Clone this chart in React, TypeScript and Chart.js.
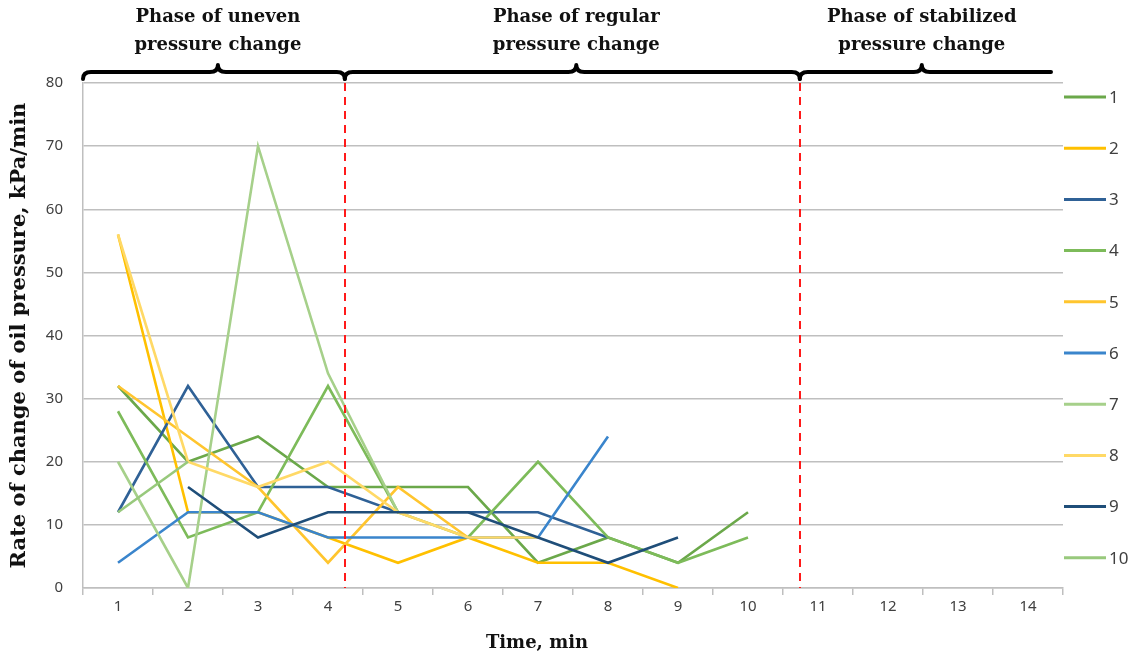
import React, { useEffect, useRef } from "react";
import { Chart, registerables } from "chart.js";

Chart.register(...registerables);

const categories = ["1", "2", "3", "4", "5", "6", "7", "8", "9", "10", "11", "12", "13", "14"];

const series1 = [32, 20, 24, 16, 16, 16, 4, 8, 4, 12];
const series2 = [56, 12, 12, 8, 4, 8, 4, 4, 0];
const series3 = [12, 32, 16, 16, 12, 12, 12, 8];
const series4 = [28, 8, 12, 32, 12, 8, 20, 8, 4, 8];
const series5 = [32, 24, 16, 4, 16, 8];
const series6 = [4, 12, 12, 8, 8, 8, 8, 24];
const series7 = [20, 0, 70, 34, 12];
const series8 = [56, 20, 16, 20, 12, 8, 8];
const series9 = [null, 16, 8, 12, 12, 12, 8, 4, 8];
const series10 = [12, 20];

const seriesNames = ["1", "2", "3", "4", "5", "6", "7", "8", "9", "10"];
const seriesValues = [series1, series2, series3, series4, series5, series6, series7, series8, series9, series10];
const seriesColors = [
  "#6BA84A", "#FFC000", "#2F6196", "#7DBB5A", "#FFC52E",
  "#3A85CC", "#A6D08A", "#FFD966", "#1F4E79", "#98C97C",
];

const yTicks = { min: 0, max: 80, step: 10 };
const phaseBoundaries = [4.24, 10.74];
const phaseLabels = [
  ["Phase of uneven", "pressure change"],
  ["Phase of regular", "pressure change"],
  ["Phase of stabilized", "pressure change"],
];
const yTitle = "Rate of change of oil pressure, kPa/min";
const xTitle = "Time, min";

const SERIF = "'DejaVu Serif', serif";
const SANS = "'Noto Sans', 'Open Sans', sans-serif";

function drawBrace(ctx: CanvasRenderingContext2D, x1: number, x2: number, mid: number, y: number, curlRight: boolean) {
  const h = 7;
  ctx.beginPath();
  ctx.moveTo(x1, y + h);
  ctx.quadraticCurveTo(x1, y, x1 + 8, y);
  ctx.lineTo(mid - 8, y);
  ctx.quadraticCurveTo(mid, y, mid, y - h);
  ctx.quadraticCurveTo(mid, y, mid + 8, y);
  if (curlRight) {
    ctx.lineTo(x2 - 8, y);
    ctx.quadraticCurveTo(x2, y, x2, y + h);
  } else {
    ctx.lineTo(x2, y);
  }
  ctx.stroke();
}

const decorPlugin = {
  id: "decor",
  afterDatasetsDraw(chart: any) {
    const { ctx, chartArea, scales } = chart;
    const xs = scales.x;
    ctx.save();
    ctx.strokeStyle = "#FF1A1A";
    ctx.lineWidth = 2;
    ctx.setLineDash([8, 6]);
    phaseBoundaries.forEach((b) => {
      const px = Math.round(xs.getPixelForValue(b - 1));
      ctx.beginPath();
      ctx.moveTo(px, chartArea.top);
      ctx.lineTo(px, chartArea.bottom);
      ctx.stroke();
    });
    ctx.restore();
  },
  afterDraw(chart: any) {
    const { ctx, chartArea, scales } = chart;
    const xs = scales.x;
    const b1 = xs.getPixelForValue(phaseBoundaries[0] - 1);
    const b2 = xs.getPixelForValue(phaseBoundaries[1] - 1);
    const right = chartArea.right - 12;
    const spans = [
      [chartArea.left, b1, true],
      [b1, b2, true],
      [b2, right, false],
    ] as [number, number, boolean][];
    const mids = [(chartArea.left + b1) / 2 + 4, (b1 + b2) / 2 + 4, b2 + 122];

    ctx.save();
    // braces
    ctx.strokeStyle = "#000";
    ctx.lineWidth = 4;
    ctx.lineCap = "round";
    ctx.lineJoin = "round";
    spans.forEach(([a, b, c], i) => drawBrace(ctx, a, b, mids[i], 72, c));

    // phase labels
    ctx.fillStyle = "#111";
    ctx.font = `bold 18px ${SERIF}`;
    ctx.textAlign = "center";
    ctx.textBaseline = "middle";
    phaseLabels.forEach((lines, i) => {
      lines.forEach((t, j) => ctx.fillText(t, mids[i], 17 + j * 28));
    });

    // axis titles
    ctx.font = `bold 18px ${SERIF}`;
    ctx.fillText(xTitle, 537, 643);
    ctx.save();
    ctx.translate(20, (chartArea.top + chartArea.bottom) / 2);
    ctx.rotate(-Math.PI / 2);
    ctx.font = `bold 21px ${SERIF}`;
    ctx.fillText(yTitle, 0, 0);
    ctx.restore();

    // legend
    ctx.font = `17px ${SANS}`;
    ctx.textAlign = "left";
    ctx.fillStyle = "#404040";
    ctx.lineWidth = 3;
    ctx.lineCap = "butt";
    const legX = chartArea.right + 1;
    seriesNames.forEach((name, i) => {
      const y = 97 + i * 51.2;
      ctx.strokeStyle = seriesColors[i];
      ctx.beginPath();
      ctx.moveTo(legX, y);
      ctx.lineTo(legX + 42, y);
      ctx.stroke();
      ctx.fillText(name, legX + 45, y + 1);
    });
    ctx.restore();
  },
};

export default function App() {
  const ref = useRef<HTMLCanvasElement | null>(null);
  useEffect(() => {
    document.body.style.margin = "0";
    const canvas = ref.current;
    if (!canvas) return;
    const chart = new Chart(canvas, {
      type: "line",
      data: {
        labels: categories,
        datasets: seriesValues.map((vals, i) => ({
          label: seriesNames[i],
          data: vals,
          borderColor: seriesColors[i],
          backgroundColor: seriesColors[i],
          borderWidth: 2.6,
          pointRadius: 0,
          tension: 0,
          fill: false,
          spanGaps: false,
          order: seriesValues.length - i,
        })),
      },
      options: {
        animation: false,
        responsive: false,
        maintainAspectRatio: false,
        layout: { padding: { top: 83, right: 74, left: 0, bottom: 0 } },
        plugins: { legend: { display: false }, tooltip: { enabled: false }, title: { display: false } },
        scales: {
          x: {
            type: "category",
            offset: true,
            grid: {
              offset: true,
              drawOnChartArea: false,
              drawTicks: true,
              tickLength: 7,
              color: "#BFBFBF",
              lineWidth: 1.5,
            },
            border: { display: true, color: "#BFBFBF", width: 1.5 },
            ticks: {
              color: "#404040",
              font: { family: SANS, size: 15 },
              padding: 3,
              maxRotation: 0,
              autoSkip: false,
            },
            afterFit: (s: any) => {
              s.height = 68;
            },
          },
          y: {
            min: yTicks.min,
            max: yTicks.max,
            grid: { color: "#BFBFBF", lineWidth: 1.5, drawTicks: false },
            border: { display: true, color: "#BFBFBF", width: 1.5 },
            ticks: {
              stepSize: yTicks.step,
              color: "#404040",
              font: { family: SANS, size: 15 },
              padding: 20,
            },
            afterFit: (s: any) => {
              s.width = 83;
            },
          },
        },
      },
      plugins: [decorPlugin],
    });
    return () => chart.destroy();
  }, []);
  return (
    <div style={{ width: 1137, height: 656, background: "#fff" }}>
      <canvas ref={ref} width={1137} height={656} style={{ display: "block" }} />
    </div>
  );
}
